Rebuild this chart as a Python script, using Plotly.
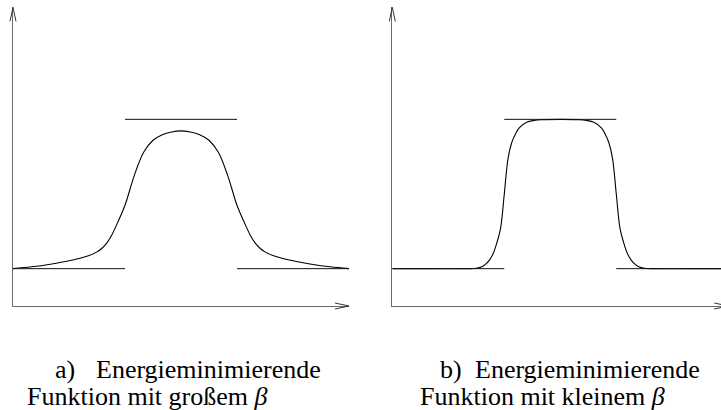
import plotly.graph_objects as go

# ---------------- data ----------------
# a) energy-minimising function, large beta
xa = [0, 0.5, 1.0, 1.5, 2.0, 2.25, 2.375, 2.5, 2.625, 2.75, 3.0, 3.25, 3.5, 3.75, 4.0, 4.25, 4.5,
      4.75, 5.0, 5.25, 5.5, 5.75, 6.0, 6.25, 6.375, 6.5, 6.625, 6.75, 7.0, 7.5, 8.0, 8.5, 9.0]
ya = [1.00, 1.05, 1.12, 1.21, 1.34, 1.45, 1.54, 1.67, 1.86, 2.12, 2.70, 3.50, 4.12, 4.44, 4.59, 4.66, 4.69,
      4.66, 4.59, 4.44, 4.12, 3.50, 2.70, 2.12, 1.86, 1.67, 1.54, 1.45, 1.34, 1.21, 1.12, 1.05, 1.00]

# b) energy-minimising function, small beta
xb = [0, 1.0, 2.0, 2.25, 2.4, 2.5, 2.6, 2.7, 2.8, 2.9, 3.0, 3.1, 3.2, 3.3, 3.4, 3.6, 3.8, 4.0, 4.5,
      5.0, 5.2, 5.4, 5.6, 5.7, 5.8, 5.9, 6.0, 6.1, 6.2, 6.3, 6.4, 6.5, 6.6, 6.75, 7.0, 8.0, 9.0]
yb = [1.0, 1.0, 1.0, 1.01, 1.05, 1.12, 1.23, 1.40, 1.69, 2.08, 3.0, 3.95, 4.38, 4.61, 4.77, 4.92, 4.97, 4.99, 5.0,
      4.99, 4.97, 4.92, 4.77, 4.61, 4.38, 3.95, 3.0, 2.08, 1.69, 1.40, 1.23, 1.12, 1.05, 1.01, 1.0, 1.0, 1.0]

# reference levels and segment breaks
level_low = 1.0
level_high = 5.0
seg_breaks = [0, 3, 6, 9]

captions_line1 = ["Energieminimierende", "Energieminimierende"]
captions_line2 = ["Funktion mit großem <i>β</i>", "Funktion mit kleinem <i>β</i>"]
caption_labels = ["a)", "b)"]

# ---------------- layout geometry ----------------
W, H = 721, 410
UNIT = 37.33            # pixels per data unit
Y_AXIS_PX = 306         # pixel row of x axes
Y_TOP = 8.0             # y range top
panel_left_px = [13, 392.3]
X_MAX = 9.0

def fx(px):
    return px / W

def fy(py):
    return 1 - py / H

fig = go.Figure()

curve_style = dict(color="#000000", width=1.1)
level_style = dict(color="#111111", width=1)

panels = [("x", "y", xa, ya), ("x2", "y2", xb, yb)]
for (xr, yr, xs, ys) in panels:
    fig.add_trace(go.Scatter(x=xs, y=ys, mode="lines", line=dict(shape="spline", smoothing=1.0, **curve_style),
                             xaxis=xr, yaxis=yr, showlegend=False, hoverinfo="skip"))
    levels = [level_low, level_high, level_low]
    for i, lv in enumerate(levels):
        fig.add_trace(go.Scatter(x=[seg_breaks[i], seg_breaks[i + 1]], y=[lv, lv], mode="lines",
                                 line=level_style, xaxis=xr, yaxis=yr, showlegend=False, hoverinfo="skip"))

y_dom = [fy(Y_AXIS_PX), fy(Y_AXIS_PX - Y_TOP * UNIT)]
ax_common = dict(showline=True, linecolor="#6a6a6a", linewidth=1, showgrid=False, zeroline=False,
                 showticklabels=False, ticks="", fixedrange=True)

xa_dom = [fx(panel_left_px[0]), fx(panel_left_px[0] + X_MAX * UNIT)]
xb_dom = [fx(panel_left_px[1]), 1.0]
xb_max = (W - panel_left_px[1]) / UNIT

fig.update_layout(
    width=W, height=H,
    margin=dict(l=0, r=0, t=0, b=0),
    paper_bgcolor="white", plot_bgcolor="white",
    xaxis=dict(domain=xa_dom, range=[0, X_MAX], anchor="y", **ax_common),
    yaxis=dict(domain=y_dom, range=[0, Y_TOP], anchor="x", **ax_common),
    xaxis2=dict(domain=xb_dom, range=[0, xb_max], anchor="y2", **ax_common),
    yaxis2=dict(domain=y_dom, range=[0, Y_TOP], anchor="x2", **ax_common),
)

# open arrowheads at the axis ends
shapes = []
WING_L, WING_S = 14, 3
for left in panel_left_px:
    top_px = Y_AXIS_PX - Y_TOP * UNIT
    p = "M {},{} L {},{} L {},{}".format(
        fx(left - WING_S), fy(top_px + WING_L), fx(left), fy(top_px), fx(left + WING_S), fy(top_px + WING_L))
    shapes.append(dict(type="path", xref="paper", yref="paper", path=p, line=dict(color="#333", width=1)))
    tip = left + X_MAX * UNIT
    p = "M {},{} L {},{} L {},{}".format(
        fx(tip - WING_L), fy(Y_AXIS_PX - WING_S), fx(tip), fy(Y_AXIS_PX), fx(tip - WING_L), fy(Y_AXIS_PX + WING_S))
    shapes.append(dict(type="path", xref="paper", yref="paper", path=p, line=dict(color="#333", width=1)))
fig.update_layout(shapes=shapes)

# captions
font = dict(family="'Liberation Serif', 'Times New Roman', 'DejaVu Serif', serif", size=26, color="#000")
label_x = [53, 438]
line1_right = [323, 702]
line2_left = [25, 418]
for i in range(2):
    fig.add_annotation(x=fx(label_x[i]), y=fy(369), xref="paper", yref="paper", text=caption_labels[i],
                       showarrow=False, xanchor="left", yanchor="middle", font=font)
    fig.add_annotation(x=fx(line1_right[i]), y=fy(369), xref="paper", yref="paper", text=captions_line1[i],
                       showarrow=False, xanchor="right", yanchor="middle", font=font)
    fig.add_annotation(x=fx(line2_left[i]), y=fy(396), xref="paper", yref="paper", text=captions_line2[i],
                       showarrow=False, xanchor="left", yanchor="middle", font=font)

fig.write_html("out.html", config={"displayModeBar": False},
               post_script="document.body.style.margin='0';document.body.style.overflow='hidden';")
